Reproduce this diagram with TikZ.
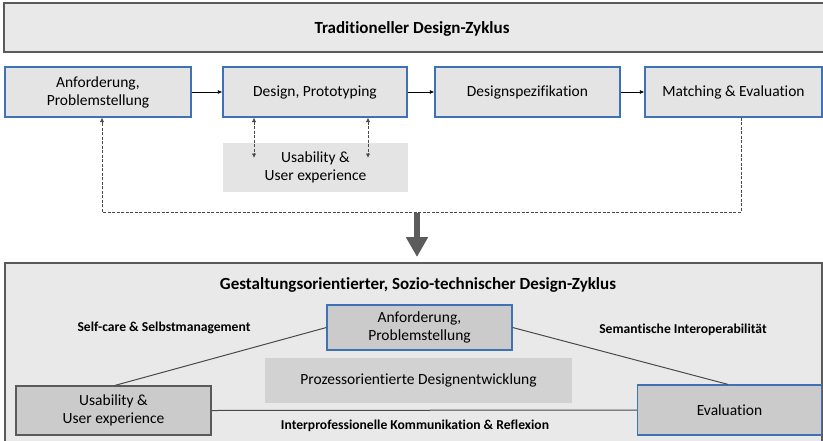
\documentclass[tikz,border=0pt]{standalone}
\usepackage{fontspec}
\setmainfont{Carlito}[Ligatures=NoCommon]
\usetikzlibrary{arrows.meta,positioning}
\definecolor{panelfill}{HTML}{E9E9E9}
\definecolor{panelline}{HTML}{5A5A5A}
\definecolor{boxfill}{HTML}{E4E4E4}
\definecolor{boxblue}{HTML}{3F72B5}
\definecolor{darkfill}{HTML}{CBCBCB}
\definecolor{linegray}{HTML}{4A4A4A}
\tikzset{
  boxfont/.style={font=\fontsize{15.5}{18}\selectfont},
  panel/.style={draw=panelline, line width=1.2pt, fill=panelfill},
  stepbox/.style={draw=boxblue, line width=1.2pt, fill=boxfill, align=center, boxfont},
  softbox/.style={fill=#1, align=center, boxfont},
  darkbox/.style={draw=#1, line width=1.2pt, fill=darkfill, align=center, boxfont},
  flow/.style={-{Latex[length=4.5pt,width=4pt]}, line width=0.8pt, draw=black},
  loop/.style={dashed, dash pattern=on 3pt off 1.5pt, line width=1pt, draw=linegray},
  twoway/.style={loop, {Latex[length=4.5pt,width=4.5pt]}-{Latex[length=4.5pt,width=4.5pt]}},
  link/.style={line width=1pt, draw=linegray},
  caption/.style={font=\fontsize{13.6}{15}\selectfont\bfseries},
  heading/.style={font=\fontsize{17}{19}\selectfont\bfseries},
}
\begin{document}
\begin{tikzpicture}[x=1pt,y=-1pt]
\useasboundingbox (0,0) rectangle (823,440);

% --- traditional cycle ---
\draw[panel] (4,3) rectangle (830,52);
\node[heading] (t1) at (412,29) {Traditioneller Design-Zyklus};

\node[stepbox, minimum width=186, minimum height=50] (a1) at (98,92) {Anforderung,\\Problemstellung};
\node[stepbox, minimum width=184, minimum height=50] (a2) at (315,92) {Design, Prototyping};
\node[stepbox, minimum width=185, minimum height=50] (a3) at (527.5,92) {Designspezifikation};
\node[stepbox, minimum width=177, minimum height=50] (a4) at (733.5,92) {Matching \& Evaluation};
\node[softbox=boxfill, minimum width=185, minimum height=49] (u1) at (315.5,167.5) {Usability \&\\User experience};

\draw[flow] (a1) -- (a2);
\draw[flow] (a2) -- (a3);
\draw[flow] (a3) -- (a4);

% dotted two-way links between design and usability
\coordinate (d1) at (254,158);
\coordinate (d2) at (368,158);
\draw[twoway] (a2.south -| d1) -- (d1);
\draw[twoway] (a2.south -| d2) -- (d2);

% feedback loop back to the requirements
\coordinate (fbR) at (741,212);
\coordinate (fbL) at (102,212);
\draw[loop, -{Latex[length=4.5pt,width=4.5pt]}] (a4.south -| fbR) -- (fbR) -- (fbL) -- (a1.south -| fbL);

% transition arrow
\coordinate (tr1) at (417,213);
\coordinate (tr2) at (417,257);
\draw[line width=5.5pt, draw=linegray!90, -{Triangle[length=20pt,width=21pt]}] (tr1) -- (tr2);

% --- socio-technical cycle ---
\draw[panel] (5,263) rectangle (822,445);
\node[heading] (t2) at (418,285) {Gestaltungsorientierter, Sozio-technischer Design-Zyklus};

\node[darkbox=boxblue, minimum width=185, minimum height=45] (b1) at (419.5,327.5) {Anforderung,\\Problemstellung};
\node[softbox=darkfill!75!panelfill, minimum width=307, minimum height=45] (b2) at (418.5,380.5) {Prozessorientierte Designentwicklung};
\node[darkbox=panelline, minimum width=195, minimum height=49] (b3) at (113.5,410.5) {Usability \&\\User experience};
\node[darkbox=boxblue, minimum width=184, minimum height=50] (b4) at (729.5,410) {Evaluation};

\draw[link] (b3.north -| 115,0) -- (b1.west);
\draw[link] (b1.east) -- (b4.north -| 728,0);
\draw[link] (b3.east) -- (b4.west);

\node[caption] (c1) at (164,328) {Self-care \& Selbstmanagement};
\node[caption] (c2) at (683,330) {Semantische Interoperabilität};
\node[caption] (c3) at (415,426) {Interprofessionelle Kommunikation \& Reflexion};
\end{tikzpicture}
\end{document}
